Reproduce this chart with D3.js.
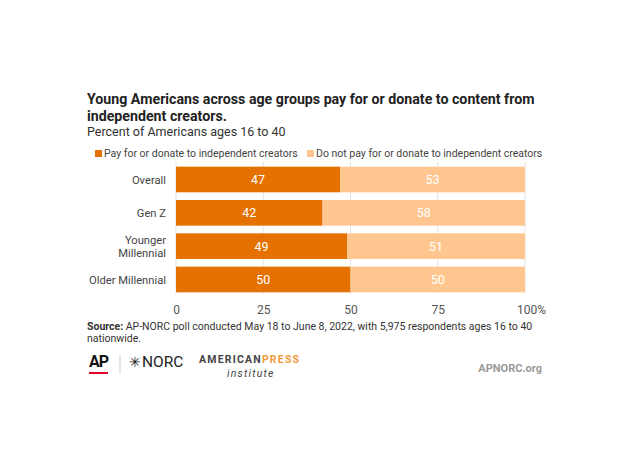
<!DOCTYPE html>
<html>
<head>
<meta charset="utf-8">
<script src="https://cdn.jsdelivr.net/npm/d3@7"></script>
<style>
  body { margin: 0; background: #fff; }
  text { font-family: Roboto, "Noto Sans", sans-serif; }
</style>
</head>
<body>
<div id="chart"></div>
<script>
// data
var groups = ["Overall", "Gen Z", "Younger Millennial", "Older Millennial"];
var groupLines = [["Overall"], ["Gen Z"], ["Younger", "Millennial"], ["Older Millennial"]];
var payValues = [47, 42, 49, 50];
var notPayValues = [53, 58, 51, 50];
var seriesNames = ["Pay for or donate to independent creators", "Do not pay for or donate to independent creators"];
var seriesColors = ["#e57200", "#ffc78f"];
var xTicks = [0, 25, 50, 75, 100];

var W = 630, H = 468;
var svg = d3.select("#chart").append("svg")
    .attr("width", W)
    .attr("height", H);

// titles
svg.append("text").attr("x", 87).attr("y", 104)
  .attr("font-size", 14.2).attr("font-weight", "bold").attr("fill", "#222")
  .text("Young Americans across age groups pay for or donate to content from");
svg.append("text").attr("x", 87).attr("y", 121)
  .attr("font-size", 14.2).attr("font-weight", "bold").attr("fill", "#222")
  .text("independent creators.");
svg.append("text").attr("x", 87).attr("y", 136)
  .attr("font-size", 12.5).attr("fill", "#333")
  .text("Percent of Americans ages 16 to 40");

// legend
var legend = svg.append("g");
var lx = [95, 307];
seriesNames.forEach(function(name, i) {
  legend.append("rect").attr("x", lx[i]).attr("y", 150)
    .attr("width", 7).attr("height", 7).attr("fill", seriesColors[i]);
  legend.append("text").attr("x", lx[i] + 9).attr("y", 157)
    .attr("font-size", 10.5).attr("fill", "#444").text(name);
});

// plot
var x = d3.scaleLinear().domain([0, 100]).range([176, 525]);
var y = d3.scaleBand().domain(groups).range([163, 296]).paddingInner(0.23).paddingOuter(0.11);

// gridlines
svg.append("g").selectAll("line")
  .data(xTicks).enter().append("line")
  .attr("x1", function(d) { return x(d); })
  .attr("x2", function(d) { return x(d); })
  .attr("y1", 162).attr("y2", 294)
  .attr("stroke", "#e3e3e3").attr("stroke-width", 1);

var rows = groups.map(function(g, i) {
  return { group: g, pay: payValues[i], notPay: notPayValues[i] };
});

var bars = svg.append("g");
bars.selectAll("rect.pay").data(rows).enter().append("rect")
  .attr("class", "pay")
  .attr("x", x(0))
  .attr("y", function(d) { return y(d.group); })
  .attr("width", function(d) { return x(d.pay) - x(0); })
  .attr("height", y.bandwidth())
  .attr("fill", seriesColors[0]);
bars.selectAll("rect.notpay").data(rows).enter().append("rect")
  .attr("class", "notpay")
  .attr("x", function(d) { return x(d.pay); })
  .attr("y", function(d) { return y(d.group); })
  .attr("width", function(d) { return x(d.pay + d.notPay) - x(d.pay); })
  .attr("height", y.bandwidth())
  .attr("fill", seriesColors[1]);

// value labels
bars.selectAll("text.payv").data(rows).enter().append("text")
  .attr("x", function(d) { return x(d.pay / 2); })
  .attr("y", function(d) { return y(d.group) + y.bandwidth() / 2 + 4.5; })
  .attr("text-anchor", "middle").attr("font-size", 12.5).attr("fill", "#fff")
  .text(function(d) { return d.pay; });
bars.selectAll("text.notv").data(rows).enter().append("text")
  .attr("x", function(d) { return x(d.pay + d.notPay / 2); })
  .attr("y", function(d) { return y(d.group) + y.bandwidth() / 2 + 4.5; })
  .attr("text-anchor", "middle").attr("font-size", 12.5).attr("fill", "#fff")
  .text(function(d) { return d.notPay; });

// category labels
var yAxis = svg.append("g");
groups.forEach(function(g, i) {
  var lines = groupLines[i];
  var cy = y(g) + y.bandwidth() / 2;
  lines.forEach(function(l, j) {
    yAxis.append("text")
      .attr("x", 166)
      .attr("y", cy + 4 + (j - (lines.length - 1) / 2) * 13)
      .attr("text-anchor", "end").attr("font-size", 11.2).attr("fill", "#444")
      .text(l);
  });
});

// x axis
var xAxis = svg.append("g").attr("transform", "translate(0,305)")
  .call(d3.axisBottom(x).tickValues(xTicks).tickSize(0).tickPadding(0)
    .tickFormat(function(d) { return d === 100 ? "100%" : d; }));
xAxis.select(".domain").remove();
xAxis.selectAll("text").attr("font-size", 12).attr("fill", "#555")
  .attr("font-family", "Roboto, sans-serif").attr("dy", "0.71em");
xAxis.selectAll(".tick").filter(function(d) { return d === 100; })
  .select("text").attr("dx", "6");

// source
var src = svg.append("text").attr("x", 87).attr("y", 330)
  .attr("font-size", 10.5).attr("fill", "#333");
src.append("tspan").attr("font-weight", "bold").text("Source:");
src.append("tspan").text(" AP-NORC poll conducted May 18 to June 8, 2022, with 5,975 respondents ages 16 to 40");
svg.append("text").attr("x", 87).attr("y", 342)
  .attr("font-size", 10.5).attr("fill", "#333").text("nationwide.");

// logos
svg.append("text").attr("x", 89).attr("y", 367)
  .attr("font-size", 16).attr("font-weight", "bold").attr("fill", "#111")
  .attr("letter-spacing", -1).text("AP");
svg.append("rect").attr("x", 89).attr("y", 372).attr("width", 19).attr("height", 2)
  .attr("fill", "#e4002b");
svg.append("line").attr("x1", 120).attr("x2", 120).attr("y1", 355).attr("y2", 374)
  .attr("stroke", "#ccc");
var norc = svg.append("text").attr("x", 129).attr("y", 367)
  .attr("font-size", 15.5).attr("fill", "#222");
norc.append("tspan").attr("font-size", 14).text("\u2733");
norc.append("tspan").attr("dx", 1).text("NORC");
var api = svg.append("text").attr("x", 199).attr("y", 363)
  .attr("font-size", 10.5).attr("font-weight", "bold").attr("letter-spacing", 1.2);
api.append("tspan").attr("fill", "#444").text("AMERICAN");
api.append("tspan").attr("fill", "#f29a3a").text("PRESS");
svg.append("text").attr("x", 227).attr("y", 377)
  .attr("font-size", 10.5).attr("font-style", "italic").attr("fill", "#444")
  .attr("font-family", "DejaVu Serif, serif").attr("letter-spacing", 1.2).text("institute");
svg.append("text").attr("x", 542).attr("y", 372).attr("text-anchor", "end")
  .attr("font-size", 11).attr("font-weight", "bold").attr("fill", "#999")
  .text("APNORC.org");
</script>
</body>
</html>
